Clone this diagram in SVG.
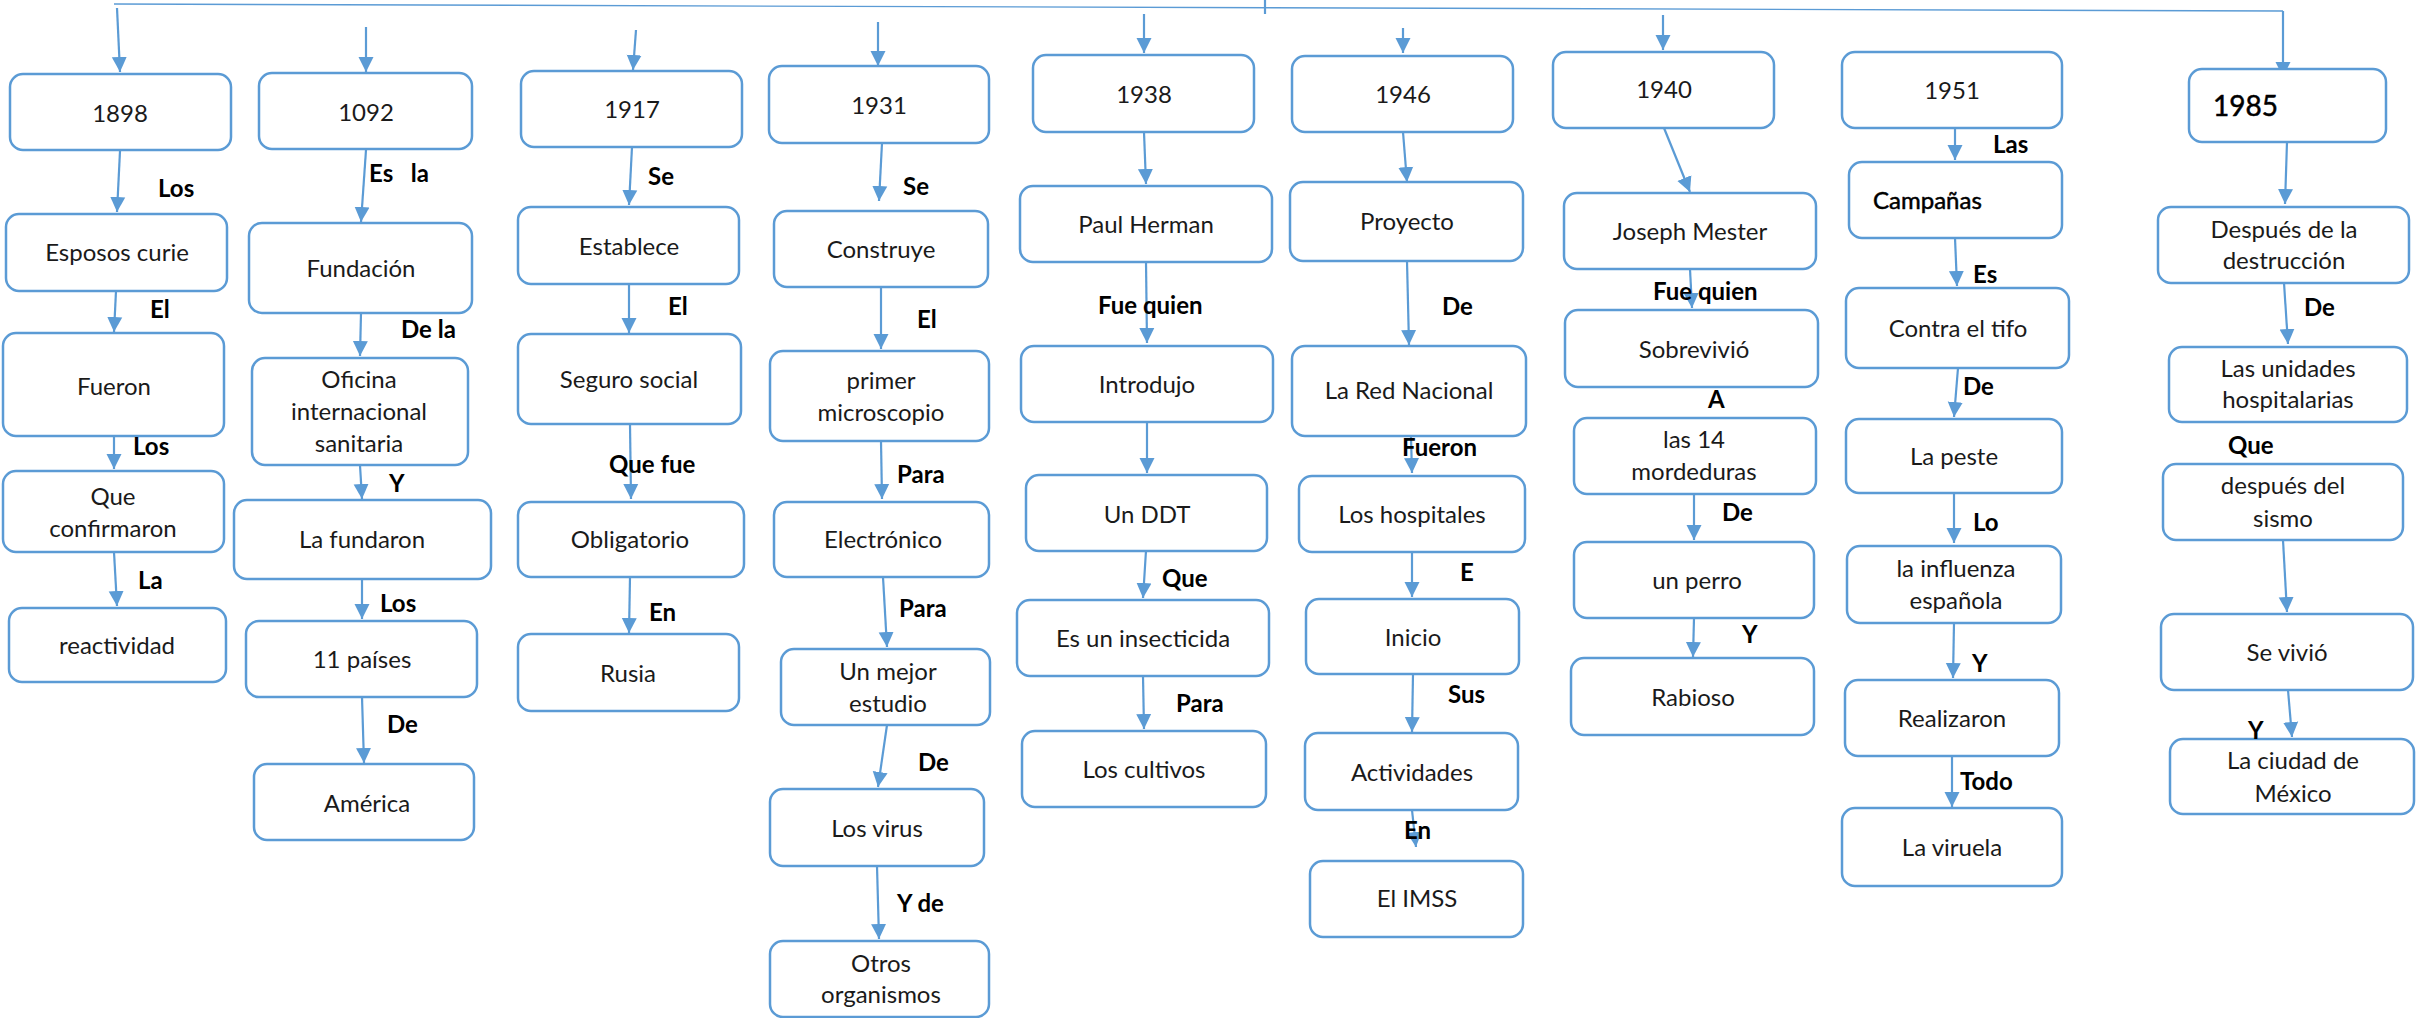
<svg xmlns="http://www.w3.org/2000/svg" width="2417" height="1018" viewBox="0 0 2417 1018">
<style>
.n rect{fill:#fff;stroke:#5B9BD5;stroke-width:2.5}
.n text{font-family:Lato,"Liberation Sans",sans-serif;font-size:24px;fill:#1a1a1a;text-anchor:middle}
.c line{stroke:#5B9BD5;stroke-width:2.2;marker-end:url(#ah)}
.thin{stroke:#5B9BD5;stroke-width:1.4;fill:none}
.l text{font-family:Lato,"Liberation Sans",sans-serif;font-size:24px;font-weight:bold;fill:#000;white-space:pre}
</style>
<defs>
<marker id="ah" markerUnits="userSpaceOnUse" markerWidth="16" markerHeight="16" viewBox="0 0 16 16" refX="15" refY="8" orient="auto">
<path d="M0,0.5 L15,8 L0,15.5 z" fill="#5B9BD5"/>
</marker>
</defs>
<rect width="2417" height="1018" fill="#fff"/>
<g id="connectors" class="c">
<polyline class="thin" points="114,4 2283,11"/>
<line class="thin" x1="1265" y1="0" x2="1265" y2="14" style="marker-end:none"/>
<line x1="2283" y1="11" x2="2283" y2="77"/>
<line x1="117" y1="8" x2="120" y2="72"/>
<line x1="120" y1="151" x2="117" y2="212"/>
<line x1="116" y1="291" x2="114" y2="332"/>
<line x1="114" y1="436" x2="114" y2="469"/>
<line x1="114" y1="552" x2="117" y2="606"/>
<line x1="366" y1="27" x2="366" y2="72"/>
<line x1="366" y1="150" x2="361" y2="222"/>
<line x1="361" y1="313" x2="360" y2="356"/>
<line x1="360" y1="465" x2="362" y2="499"/>
<line x1="362" y1="579" x2="362" y2="619"/>
<line x1="362" y1="697" x2="364" y2="763"/>
<line x1="636" y1="30" x2="633" y2="70"/>
<line x1="632" y1="147" x2="629" y2="205"/>
<line x1="629" y1="284" x2="629" y2="333"/>
<line x1="630" y1="424" x2="631" y2="499"/>
<line x1="630" y1="577" x2="629" y2="633"/>
<line x1="878" y1="22" x2="878" y2="66"/>
<line x1="882" y1="143" x2="879" y2="201"/>
<line x1="881" y1="287" x2="881" y2="349"/>
<line x1="881" y1="441" x2="882" y2="499"/>
<line x1="883" y1="577" x2="887" y2="647"/>
<line x1="887" y1="725" x2="878" y2="787"/>
<line x1="877" y1="866" x2="879" y2="939"/>
<line x1="1144" y1="14" x2="1144" y2="53"/>
<line x1="1144" y1="132" x2="1146" y2="184"/>
<line x1="1146" y1="262" x2="1147" y2="343"/>
<line x1="1147" y1="422" x2="1147" y2="473"/>
<line x1="1146" y1="551" x2="1143" y2="598"/>
<line x1="1143" y1="676" x2="1144" y2="729"/>
<line x1="1403" y1="28" x2="1403" y2="53"/>
<line x1="1403" y1="132" x2="1407" y2="182"/>
<line x1="1407" y1="261" x2="1409" y2="345"/>
<line x1="1411" y1="437" x2="1412" y2="473"/>
<line x1="1412" y1="552" x2="1412" y2="597"/>
<line x1="1413" y1="674" x2="1412" y2="732"/>
<line x1="1412" y1="810" x2="1416" y2="847"/>
<line x1="1663" y1="15" x2="1663" y2="50"/>
<line x1="1664" y1="128" x2="1690" y2="192"/>
<line x1="1690" y1="269" x2="1692" y2="308"/>
<line x1="1694" y1="494" x2="1694" y2="540"/>
<line x1="1694" y1="618" x2="1693" y2="657"/>
<line x1="1955" y1="128" x2="1955" y2="160"/>
<line x1="1955" y1="238" x2="1957" y2="286"/>
<line x1="1958" y1="368" x2="1954" y2="417"/>
<line x1="1954" y1="493" x2="1954" y2="543"/>
<line x1="1954" y1="623" x2="1953" y2="678"/>
<line x1="1952" y1="756" x2="1952" y2="807"/>
<line x1="2287" y1="142" x2="2285" y2="204"/>
<line x1="2284" y1="283" x2="2288" y2="344"/>
<line x1="2283" y1="540" x2="2287" y2="612"/>
<line x1="2288" y1="690" x2="2292" y2="737"/>
</g>
<g id="nodes" class="n">
<g id="n1898"><rect x="10" y="74" width="221" height="76" rx="13"/><text x="120" y="122">1898</text></g>
<g id="esposos"><rect x="6" y="214" width="221" height="77" rx="13"/><text x="117" y="261">Esposos curie</text></g>
<g id="fueron"><rect x="3" y="333" width="221" height="103" rx="13"/><text x="114" y="395">Fueron</text></g>
<g id="confirmaron"><rect x="3" y="471" width="221" height="81" rx="13"/><text x="113" y="505">Que</text><text x="113" y="537">confirmaron</text></g>
<g id="reactividad"><rect x="9" y="608" width="217" height="74" rx="13"/><text x="117" y="654">reactividad</text></g>

<g id="n1092"><rect x="259" y="73" width="213" height="76" rx="13"/><text x="366" y="121">1092</text></g>
<g id="fundacion"><rect x="249" y="223" width="223" height="90" rx="13"/><text x="361" y="277">Fundación</text></g>
<g id="oficina"><rect x="252" y="358" width="216" height="107" rx="13"/><text x="359" y="388">Oficina</text><text x="359" y="420">internacional</text><text x="359" y="452">sanitaria</text></g>
<g id="fundaron"><rect x="234" y="500" width="257" height="79" rx="13"/><text x="362" y="548">La fundaron</text></g>
<g id="paises"><rect x="246" y="621" width="231" height="76" rx="13"/><text x="362" y="668">11 países</text></g>
<g id="america"><rect x="254" y="764" width="220" height="76" rx="13"/><text x="367" y="812">América</text></g>

<g id="n1917"><rect x="521" y="71" width="221" height="76" rx="13"/><text x="632" y="118">1917</text></g>
<g id="establece"><rect x="518" y="207" width="221" height="77" rx="13"/><text x="629" y="255">Establece</text></g>
<g id="seguro"><rect x="518" y="334" width="223" height="90" rx="13"/><text x="629" y="388">Seguro social</text></g>
<g id="obligatorio"><rect x="518" y="502" width="226" height="75" rx="13"/><text x="630" y="548">Obligatorio</text></g>
<g id="rusia"><rect x="518" y="634" width="221" height="77" rx="13"/><text x="628" y="682">Rusia</text></g>

<g id="n1931"><rect x="769" y="66" width="220" height="77" rx="13"/><text x="879" y="114">1931</text></g>
<g id="construye"><rect x="774" y="211" width="214" height="76" rx="13"/><text x="881" y="258">Construye</text></g>
<g id="microscopio"><rect x="770" y="351" width="219" height="90" rx="13"/><text x="881" y="389">primer</text><text x="881" y="421">microscopio</text></g>
<g id="electronico"><rect x="774" y="502" width="215" height="75" rx="13"/><text x="883" y="548">Electrónico</text></g>
<g id="estudio"><rect x="781" y="649" width="209" height="76" rx="13"/><text x="888" y="680">Un mejor</text><text x="888" y="712">estudio</text></g>
<g id="virus"><rect x="770" y="789" width="214" height="77" rx="13"/><text x="877" y="837">Los virus</text></g>
<g id="otros"><rect x="770" y="941" width="219" height="76" rx="13"/><text x="881" y="972">Otros</text><text x="881" y="1003">organismos</text></g>

<g id="n1938"><rect x="1033" y="55" width="221" height="77" rx="13"/><text x="1144" y="103">1938</text></g>
<g id="paul"><rect x="1020" y="186" width="252" height="76" rx="13"/><text x="1146" y="233">Paul Herman</text></g>
<g id="introdujo"><rect x="1021" y="346" width="252" height="76" rx="13"/><text x="1147" y="393">Introdujo</text></g>
<g id="ddt"><rect x="1026" y="475" width="241" height="76" rx="13"/><text x="1147" y="523">Un DDT</text></g>
<g id="insecticida"><rect x="1017" y="600" width="252" height="76" rx="13"/><text x="1143" y="647">Es un insecticida</text></g>
<g id="cultivos"><rect x="1022" y="731" width="244" height="76" rx="13"/><text x="1144" y="778">Los cultivos</text></g>

<g id="n1946"><rect x="1292" y="56" width="221" height="76" rx="13"/><text x="1403" y="103">1946</text></g>
<g id="proyecto"><rect x="1290" y="182" width="233" height="79" rx="13"/><text x="1407" y="230">Proyecto</text></g>
<g id="red"><rect x="1292" y="346" width="234" height="90" rx="13"/><text x="1409" y="399">La Red Nacional</text></g>
<g id="hospitales"><rect x="1299" y="476" width="226" height="76" rx="13"/><text x="1412" y="523">Los hospitales</text></g>
<g id="inicio"><rect x="1306" y="599" width="213" height="75" rx="13"/><text x="1413" y="646">Inicio</text></g>
<g id="actividades"><rect x="1305" y="733" width="213" height="77" rx="13"/><text x="1412" y="781">Actividades</text></g>
<g id="imss"><rect x="1310" y="861" width="213" height="76" rx="13"/><text x="1417" y="907">El IMSS</text></g>

<g id="n1940"><rect x="1553" y="52" width="221" height="76" rx="13"/><text x="1664" y="98">1940</text></g>
<g id="joseph"><rect x="1564" y="193" width="252" height="76" rx="13"/><text x="1690" y="240">Joseph Mester</text></g>
<g id="sobrevivio"><rect x="1565" y="310" width="253" height="77" rx="13"/><text x="1694" y="358">Sobrevivió</text></g>
<g id="mordeduras"><rect x="1574" y="418" width="242" height="76" rx="13"/><text x="1694" y="448">las 14</text><text x="1694" y="480">mordeduras</text></g>
<g id="perro"><rect x="1574" y="542" width="240" height="76" rx="13"/><text x="1697" y="589">un perro</text></g>
<g id="rabioso"><rect x="1571" y="658" width="243" height="77" rx="13"/><text x="1693" y="706">Rabioso</text></g>

<g id="n1951"><rect x="1842" y="52" width="220" height="76" rx="13"/><text x="1952" y="99">1951</text></g>
<g id="campanas"><rect x="1849" y="162" width="213" height="76" rx="13"/><text x="1873" y="209" style="text-anchor:start;fill:#000;stroke:#000;stroke-width:0.5">Campañas</text></g>
<g id="tifo"><rect x="1846" y="288" width="223" height="80" rx="13"/><text x="1958" y="337">Contra el tifo</text></g>
<g id="peste"><rect x="1846" y="419" width="216" height="74" rx="13"/><text x="1954" y="465">La peste</text></g>
<g id="influenza"><rect x="1847" y="546" width="214" height="77" rx="13"/><text x="1956" y="577">la influenza</text><text x="1956" y="609">española</text></g>
<g id="realizaron"><rect x="1845" y="680" width="214" height="76" rx="13"/><text x="1952" y="727">Realizaron</text></g>
<g id="viruela"><rect x="1842" y="808" width="220" height="78" rx="13"/><text x="1952" y="856">La viruela</text></g>

<g id="n1985"><rect x="2189" y="69" width="197" height="73" rx="13"/><text x="2213" y="116" style="text-anchor:start;font-size:28px;fill:#000;stroke:#000;stroke-width:0.5">1985</text></g>
<g id="destruccion"><rect x="2158" y="207" width="251" height="76" rx="13"/><text x="2284" y="238">Después de la</text><text x="2284" y="269">destrucción</text></g>
<g id="unidades"><rect x="2169" y="347" width="238" height="75" rx="13"/><text x="2288" y="377">Las unidades</text><text x="2288" y="408">hospitalarias</text></g>
<g id="sismo"><rect x="2163" y="464" width="240" height="76" rx="13"/><text x="2283" y="494">después del</text><text x="2283" y="527">sismo</text></g>
<g id="vivio"><rect x="2161" y="614" width="252" height="76" rx="13"/><text x="2287" y="661">Se vivió</text></g>
<g id="ciudad"><rect x="2170" y="739" width="244" height="75" rx="13"/><text x="2293" y="769">La ciudad de</text><text x="2293" y="802">México</text></g>
</g>
<g id="labels" class="l">
<text x="158" y="197">Los</text>
<text x="150" y="318">El</text>
<text x="133" y="455">Los</text>
<text x="138" y="589">La</text>
<text x="369" y="182">Es   la</text>
<text x="401" y="338">De la</text>
<text x="389" y="492">Y</text>
<text x="380" y="612">Los</text>
<text x="387" y="733">De</text>
<text x="648" y="185">Se</text>
<text x="668" y="315">El</text>
<text x="609" y="473">Que fue</text>
<text x="649" y="621">En</text>
<text x="903" y="195">Se</text>
<text x="917" y="328">El</text>
<text x="897" y="483">Para</text>
<text x="899" y="617">Para</text>
<text x="918" y="771">De</text>
<text x="897" y="912">Y de</text>
<text x="1098" y="314">Fue quien</text>
<text x="1162" y="587">Que</text>
<text x="1176" y="712">Para</text>
<text x="1442" y="315">De</text>
<text x="1402" y="456">Fueron</text>
<text x="1460" y="581">E</text>
<text x="1448" y="703">Sus</text>
<text x="1404" y="839">En</text>
<text x="1653" y="300">Fue quien</text>
<text x="1708" y="408">A</text>
<text x="1722" y="521">De</text>
<text x="1742" y="643">Y</text>
<text x="1993" y="153">Las</text>
<text x="1973" y="283">Es</text>
<text x="1963" y="395">De</text>
<text x="1973" y="531">Lo</text>
<text x="1972" y="672">Y</text>
<text x="1960" y="790">Todo</text>
<text x="2304" y="316">De</text>
<text x="2228" y="454">Que</text>
<text x="2248" y="739">Y</text>
</g>
</svg>
